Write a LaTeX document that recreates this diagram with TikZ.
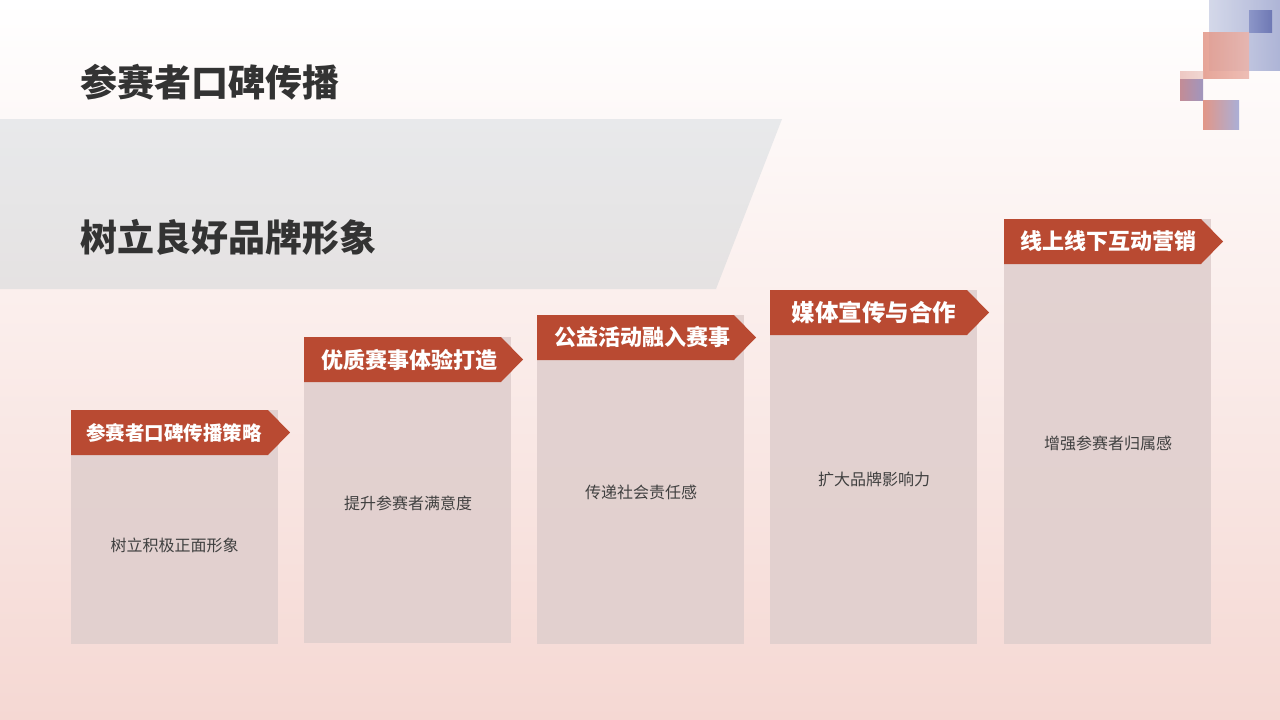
\documentclass[tikz,border=0pt]{standalone}
\usepackage{fontspec}
\usepackage{xcolor}
\usepackage{tikz}
\newfontfamily\cjk{Noto Sans CJK SC}
\definecolor{bannerred}{RGB}{185,74,50}
\definecolor{boxfill}{RGB}{224,207,206}
\definecolor{darktext}{RGB}{51,51,51}
\definecolor{boxtextc}{RGB}{64,64,64}
\definecolor{bgpink}{RGB}{245,216,211}
\definecolor{bgmid}{RGB}{249,238,236}
\definecolor{bandtop}{RGB}{232,233,235}
\definecolor{bandbot}{RGB}{229,226,226}

\begin{document}
\begin{tikzpicture}[x=1pt, y=-1pt,
    bigtitle/.style={anchor=west, inner sep=0pt, text=darktext, font=\cjk\bfseries\fontsize{37}{42}\selectfont},
    colbox/.style={anchor=north west, fill=boxfill, fill opacity=0.9, inner sep=0pt, outer sep=0pt, minimum width=207pt},
    bannertext/.style={inner sep=0pt, text=white, font=\cjk\bfseries\fontsize{#1}{#1}\selectfont},
    boxtext/.style={inner sep=0pt, text=boxtextc, font=\cjk\fontsize{16}{18}\selectfont}]
        \useasboundingbox (0,0) rectangle (1280,720);

        % Background
        \shade[top color=white, middle color=bgmid, bottom color=bgpink] (0,0) rectangle (1280,720);

        % Grey band behind subtitle
        \shade[top color=bandtop, bottom color=bandbot] (0,119) -- (782,119) -- (716,289) -- (0,289) -- cycle;

        % Corner squares
        \shade[left color={rgb,255:red,205;green,210;blue,230}, right color={rgb,255:red,160;green,168;blue,208}, opacity=0.85] (1209,0) rectangle (1280,70);
        \shade[left color={rgb,255:red,140;green,150;blue,200}, right color={rgb,255:red,110;green,120;blue,180}] (1249,10) rectangle (1272,32);
        \shade[left color={rgb,255:red,226;green,150;blue,135}, right color={rgb,255:red,236;green,180;blue,170}, opacity=0.85] (1203,32) rectangle (1249,78);
        \shade[left color={rgb,255:red,238;green,200;blue,195}, right color={rgb,255:red,240;green,215;blue,210}] (1180,71) rectangle (1203,79);
        \shade[left color={rgb,255:red,195;green,140;blue,150}, right color={rgb,255:red,160;green,150;blue,190}] (1180,79) rectangle (1203,100);
        \shade[left color={rgb,255:red,226;green,150;blue,135}, right color={rgb,255:red,170;green,175;blue,215}] (1203,100) rectangle (1239,129);

        % Titles
        \node[bigtitle] (title) at (80,82) {参赛者口碑传播};
        \node[bigtitle] (subtitle) at (80,237) {树立良好品牌形象};

        % Column boxes
        \node[colbox, minimum height=234pt] (box1) at (71,410) {};
        \node[colbox, minimum height=306pt] (box2) at (304,337) {};
        \node[colbox, minimum height=329pt] (box3) at (537,315) {};
        \node[colbox, minimum height=354pt] (box4) at (770,290) {};
        \node[colbox, minimum height=425pt] (box5) at (1004,219) {};

        % Banners
        \fill[bannerred] (box1.north west) -- ++(197,0) -- ++(22,22.5) -- ++(-22,22.5) -- ++(-197,0) -- cycle;
        \fill[bannerred] (box2.north west) -- ++(197,0) -- ++(22,22.5) -- ++(-22,22.5) -- ++(-197,0) -- cycle;
        \fill[bannerred] (box3.north west) -- ++(197,0) -- ++(22,22.5) -- ++(-22,22.5) -- ++(-197,0) -- cycle;
        \fill[bannerred] (box4.north west) -- ++(197,0) -- ++(22,22.5) -- ++(-22,22.5) -- ++(-197,0) -- cycle;
        \fill[bannerred] (box5.north west) -- ++(197,0) -- ++(22,22.5) -- ++(-22,22.5) -- ++(-197,0) -- cycle;

        % Banner labels
        \node[bannertext=19.5] (lab1) at (174,432.5) {参赛者口碑传播策略};
        \node[bannertext=22] (lab2) at (409,360) {优质赛事体验打造};
        \node[bannertext=22] (lab3) at (642,337.5) {公益活动融入赛事};
        \node[bannertext=23.5] (lab4) at (874,312.5) {媒体宣传与合作};
        \node[bannertext=22] (lab5) at (1108,241.5) {线上线下互动营销};

        % Box texts
        \node[boxtext] (txt1) at (174.5,545) {树立积极正面形象};
        \node[boxtext] (txt2) at (408,503) {提升参赛者满意度};
        \node[boxtext] (txt3) at (641,492) {传递社会责任感};
        \node[boxtext] (txt4) at (874,479) {扩大品牌影响力};
        \node[boxtext] (txt5) at (1108,443) {增强参赛者归属感};
\end{tikzpicture}
\end{document}
